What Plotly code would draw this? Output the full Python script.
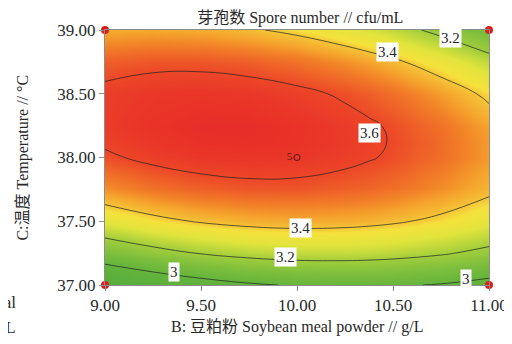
import plotly.graph_objects as go

# --- data ---
soybean = [9.00, 9.25, 9.50, 9.75, 10.00, 10.25, 10.375, 10.50, 10.75, 11.00]          # B, g/L
temperature = [37.00, 37.25, 37.50, 37.75, 38.00, 38.125, 38.25, 38.50, 38.75, 39.00]  # C, degC
# spore number (rows = temperature, columns = soybean meal powder)
spores = [
    [2.819, 2.890, 2.945, 2.985, 3.010, 3.019, 3.018, 3.013, 2.992, 2.955],
    [3.096, 3.158, 3.206, 3.238, 3.255, 3.256, 3.251, 3.242, 3.213, 3.168],
    [3.315, 3.370, 3.409, 3.433, 3.442, 3.436, 3.427, 3.414, 3.376, 3.324],
    [3.478, 3.525, 3.556, 3.572, 3.573, 3.558, 3.545, 3.529, 3.483, 3.423],
    [3.584, 3.623, 3.646, 3.654, 3.647, 3.624, 3.607, 3.587, 3.533, 3.465],
    [3.615, 3.650, 3.670, 3.674, 3.663, 3.636, 3.617, 3.594, 3.537, 3.464],
    [3.633, 3.664, 3.679, 3.679, 3.664, 3.634, 3.613, 3.588, 3.527, 3.450],
    [3.625, 3.648, 3.655, 3.647, 3.624, 3.586, 3.561, 3.532, 3.463, 3.378],
    [3.560, 3.575, 3.575, 3.559, 3.528, 3.481, 3.452, 3.419, 3.342, 3.250],
    [3.438, 3.445, 3.437, 3.413, 3.374, 3.320, 3.287, 3.250, 3.165, 3.064],
]
contour_levels = [3.0, 3.2, 3.4, 3.6]
design_B = [9.00, 11.00, 9.00, 11.00]
design_C = [37.00, 37.00, 39.00, 39.00]
center_B = [10.00]
center_C = [38.00]
center_reps = ["5"]
x_ticks = [9.00, 9.50, 10.00, 10.50, 11.00]
y_ticks = [37.00, 37.50, 38.00, 38.50, 39.00]
# contour label texts and where they sit along the lines
label_text = ["3.4", "3.2", "3.6", "3.4", "3.2", "3", "3"]
label_B = [10.47, 10.80, 10.38, 10.02, 9.94, 9.36, 10.88]
label_C = [38.83, 38.94, 38.19, 37.45, 37.22, 37.10, 37.05]

SERIF = "Liberation Serif, Noto Sans CJK SC, serif"
TXT = "rgb(40,40,40)"

colorscale = [
    [0.000, "rgb(85,170,60)"],
    [0.227, "rgb(100,180,60)"],
    [0.341, "rgb(125,190,60)"],
    [0.455, "rgb(160,205,60)"],
    [0.568, "rgb(225,228,60)"],
    [0.648, "rgb(245,225,60)"],
    [0.682, "rgb(245,195,55)"],
    [0.739, "rgb(245,165,45)"],
    [0.795, "rgb(242,130,40)"],
    [0.909, "rgb(236,70,40)"],
    [1.000, "rgb(232,45,40)"],
]

fig = go.Figure()
fig.add_trace(go.Contour(
    x=soybean, y=temperature, z=spores,
    zmin=2.80, zmax=3.68, zauto=False,
    colorscale=colorscale, showscale=False,
    contours=dict(start=contour_levels[0], end=contour_levels[-1],
                  size=contour_levels[1] - contour_levels[0],
                  coloring="heatmap", showlabels=False),
    line=dict(color="rgba(30,35,30,0.7)", width=1, smoothing=1.3),
    hoverinfo="skip",
))
fig.add_trace(go.Scatter(
    x=design_B, y=design_C, mode="markers",
    marker=dict(color="rgb(220,30,30)", size=8),
    cliponaxis=False, hoverinfo="skip",
))
fig.add_trace(go.Scatter(
    x=center_B, y=center_C, mode="markers+text", text=center_reps,
    textposition="middle left",
    textfont=dict(family=SERIF, size=11, color="rgb(110,25,25)"),
    marker=dict(symbol="circle-open", color="rgb(110,25,25)", size=6, line=dict(width=1.2)),
    hoverinfo="skip",
))

for t, bx, cy in zip(label_text, label_B, label_C):
    fig.add_annotation(x=bx, y=cy, text=t, showarrow=False,
                       bgcolor="white", borderpad=1,
                       font=dict(family=SERIF, size=15, color=TXT))

# axis titles
fig.add_annotation(xref="paper", yref="paper", x=0.5, y=-0.165,
                   text="B: 豆粕粉 Soybean meal powder // g/L", showarrow=False,
                   xanchor="center", yanchor="middle",
                   font=dict(family=SERIF, size=16, color=TXT))
fig.add_annotation(xref="paper", yref="paper", x=-0.216, y=0.5, textangle=-90,
                   text="C:温度 Temperature // °C", showarrow=False,
                   xanchor="center", yanchor="middle",
                   font=dict(family=SERIF, size=16, color=TXT))

# clipped text of neighbouring panel at the left edge
fig.add_annotation(xref="paper", yref="paper", x=-0.227, y=-0.07, xanchor="right",
                   yanchor="middle", text="meal", showarrow=False,
                   font=dict(family=SERIF, size=17, color=TXT))
fig.add_annotation(xref="paper", yref="paper", x=-0.227, y=-0.165, xanchor="right",
                   yanchor="middle", text="g/L", showarrow=False,
                   font=dict(family=SERIF, size=17, color=TXT))

axis_common = dict(showline=True, linecolor="rgb(140,140,140)", linewidth=1, mirror=True,
                   ticks="outside", ticklen=5, tickcolor="rgb(140,140,140)",
                   showgrid=False, zeroline=False, tickformat=".2f", automargin=False,
                   tickfont=dict(family=SERIF, size=17, color=TXT))

# the page body adds an 8px offset, so the figure is sized to fill the rest of the window
fig.update_layout(
    width=504, height=336,
    margin=dict(l=97, r=23, t=22, b=59),
    paper_bgcolor="white", plot_bgcolor="white",
    showlegend=False,
    title=dict(text="芽孢数 Spore number // cfu/mL", x=0.58, xanchor="center",
               y=0.973, yanchor="middle",
               font=dict(family=SERIF, size=16, color=TXT)),
    xaxis=dict(range=[9.0, 11.0], tickvals=x_ticks, **axis_common),
    yaxis=dict(range=[37.0, 39.0], tickvals=y_ticks, **axis_common),
)

fig.write_html("out.html")
